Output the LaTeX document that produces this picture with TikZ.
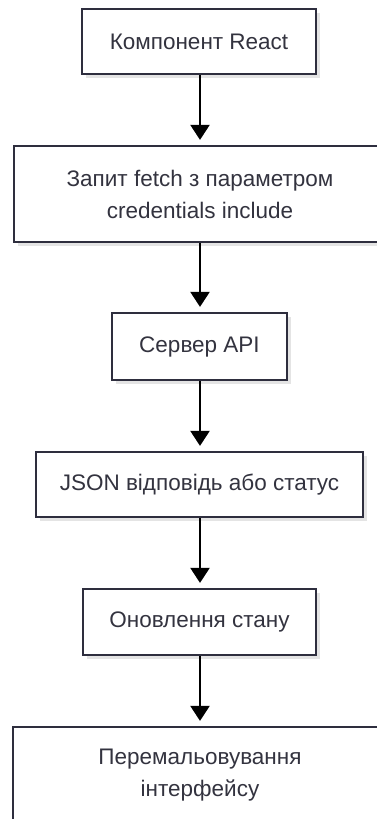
\documentclass[tikz,border=0pt]{standalone}
\usepackage{fontspec}
\setmainfont{Liberation Sans}
\usetikzlibrary{arrows.meta,shadows}
\definecolor{edgec}{HTML}{2E2E3E}
\definecolor{textc}{HTML}{33333F}
\definecolor{shadowc}{HTML}{E4E4E4}
\tikzset{
  stepbox/.style={draw=edgec, line width=2.2pt, fill=white, text=textc,
    font=\fontsize{22.5}{32}\selectfont, align=center, inner sep=0pt,
    drop shadow={shadow xshift=4pt, shadow yshift=-4pt, fill=shadowc, opacity=1}},
  flow/.style={line width=2.2pt, -{Triangle[length=15pt,width=19pt]}, shorten >=5pt}
}
\begin{document}
\begin{tikzpicture}[x=1pt,y=-1pt]
  \useasboundingbox (0,0) rectangle (377,819);
  \node[stepbox, minimum width=234pt, minimum height=65pt] (react) at (199,41.5) {Компонент React};
  \node[stepbox, minimum width=372pt, minimum height=96pt] (fetch) at (200,194) {Запит fetch з параметром\\credentials include};
  \node[stepbox, minimum width=175pt, minimum height=67pt] (api) at (199.5,346.5) {Сервер API};
  \node[stepbox, minimum width=327pt, minimum height=65pt] (json) at (199.5,484.5) {JSON відповідь або статус};
  \node[stepbox, minimum width=233pt, minimum height=66pt] (state) at (199.5,622) {Оновлення стану};
  \node[stepbox, minimum width=374pt, minimum height=96pt] (ui) at (200,775) {Перемальовування\\інтерфейсу};
  \draw[flow] (react.south -| 200,0) -- (fetch.north -| 200,0);
  \draw[flow] (fetch.south -| 200,0) -- (api.north -| 200,0);
  \draw[flow] (api.south -| 200,0) -- (json.north -| 200,0);
  \draw[flow] (json.south -| 200,0) -- (state.north -| 200,0);
  \draw[flow] (state.south -| 200,0) -- (ui.north -| 200,0);
\end{tikzpicture}
\end{document}
